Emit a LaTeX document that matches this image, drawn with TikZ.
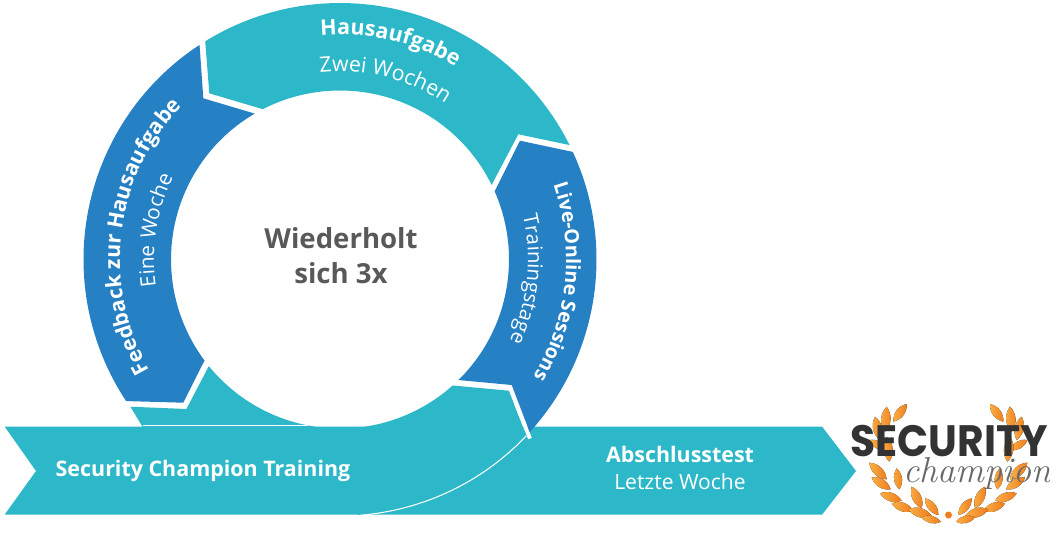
\documentclass[tikz,border=0pt]{standalone}
\usepackage{fontspec}
\usetikzlibrary{decorations.text}
\setmainfont{Open Sans}
\newfontfamily\logofont{Poppins}[FakeStretch=0.93]
\newfontfamily\champfont{Latin Modern Roman}
\definecolor{ringteal}{RGB}{44, 184, 200}
\definecolor{ringblue}{RGB}{37, 128, 196}
\definecolor{centergray}{RGB}{89, 89, 89}
\definecolor{logodark}{RGB}{51, 51, 51}
\definecolor{logogray}{RGB}{105, 105, 105}
\definecolor{leaflight}{RGB}{250, 175, 70}
\definecolor{leafdark}{RGB}{238, 125, 30}

\begin{document}
\begin{tikzpicture}[x=0.02cm, y=0.02cm,
    seg_teal/.style={fill=ringteal},
    seg_blue/.style={fill=ringblue},
    gap_line/.style={white, line width=0.6pt},
    gap_wide/.style={white, line width=2.2pt},
    band_bold/.style={font=\fontsize{12.2}{14}\selectfont\bfseries, text=white, inner sep=0pt},
    band_thin/.style={font=\fontsize{12}{14}\selectfont, text=white, inner sep=0pt},
    center_text/.style={font=\fontsize{15.7}{19.8}\selectfont\bfseries, text=centergray, align=center, inner sep=0pt},
    bent_bold/.style 2 args={decorate, decoration={text along path, text align=center,
        text={|\fontsize{#1}{14}\selectfont\bfseries\color{white}|#2}}},
    bent_thin/.style 2 args={decorate, decoration={text along path, text align=center,
        text={|\fontsize{#1}{14}\selectfont\color{white}|#2}}},
    leaf/.style={left color=leaflight, right color=leafdark, draw=none},
]

\useasboundingbox (0,0) rectangle (1050,532);

% --- Radien ---
\def\rout{256.5}
\def\rin{169}
\def\rbold{225}
\def\rthin{188}

% --- Band ---
\fill[seg_teal] (4.6,105.5) -- (36,61) -- (4.6,17.3) -- (822,17.3) -- (856,61) -- (822,105.5) -- cycle;

\begin{scope}[shift={(340,272.5)}]
% --- Ring unten ---
\fill[seg_teal] (-209.6,-147.2) -- (-153.6,-149.5) -- (219.1:\rin)
    arc[start angle=219.1, end angle=311.8, radius=\rin]
    -- (168.9,-131.2) -- (-43.4:\rout)
    arc[start angle=-43.4, end angle=-85.5, radius=\rout]
    -- (-197,-168) -- cycle;
\draw[gap_line] (-197,-166) -- (-32,-166);
\draw[gap_line] (-43.4:\rout) arc[start angle=-43.4, end angle=-85.5, radius=\rout];
\draw[gap_wide] (176,-144) -- (190,-179);

% --- Ring oben ---
\fill[seg_teal] (121.7:\rout) arc[start angle=121.7, end angle=26.5, radius=\rout]
    -- (178.3,125.2) -- (26.2:\rin)
    arc[start angle=26.2, end angle=117.2, radius=\rin]
    -- (-130.7,166.2) -- cycle;

% --- Ring rechts ---
\fill[seg_blue] (24.8:\rout) arc[start angle=24.8, end angle=-42.3, radius=\rout]
    -- (171.7,-125.5) -- (-45.5:\rin)
    arc[start angle=-45.5, end angle=23.8, radius=\rin]
    -- (180,118.8) -- cycle;

% --- Ring links ---
\fill[seg_blue] (123.2:\rout) arc[start angle=123.2, end angle=213.5, radius=\rout]
    -- (-156.7,-143.2) -- (216.7:\rin)
    arc[start angle=216.7, end angle=120.3, radius=\rin]
    -- (-136.7,161.2) -- cycle;

% --- Gebogene Texte ---
\path[bent_bold={12.2}{Hausaufgabe}] (137:\rbold) arc[start angle=137, end angle=17, radius=\rbold];
\path[bent_thin={12.1}{Zwei Wochen}] (136:\rthin) arc[start angle=136, end angle=16, radius=\rthin];
\path[bent_bold={11.2}{Live-Online Sessions}] (64:226) arc[start angle=64, end angle=-76, radius=226];
\path[bent_thin={11.6}{Trainingstage}] (54:\rthin) arc[start angle=54, end angle=-66, radius=\rthin];
\path[bent_bold={12.1}{Feedback zur Hausaufgabe}] (243:220) arc[start angle=243, end angle=103, radius=220];
\path[bent_thin={11.8}{Eine Woche}] (231:186) arc[start angle=231, end angle=111, radius=186];

\node[center_text] (center) at (1,4) {Wiederholt\\sich 3x};
\end{scope}

% --- Texte im Band ---
\node[band_bold] (training) at (203,61) {Security Champion Training};
\node[band_bold] (test) at (680,78) {Abschlusstest};
\node[band_thin] (week) at (680,50) {Letzte Woche};

% --- Logo: Lorbeer ---
\foreach \s in {1,-1} {
\begin{scope}[shift={(830,142)}, xscale=1/3, yscale=-1/3, shift={(355,0)}, xscale=\s, shift={(-355,0)}]
\foreach \xa/\ya/\xb/\yb in {230/42/190/95, 170/50/165/125, 135/80/150/150, 118/150/170/180,
    170/140/178/215, 118/218/170/268, 200/235/208/298, 125/262/182/298, 150/310/215/332,
    245/290/275/355, 185/340/250/362, 285/325/325/375, 235/358/305/378, 275/382/332/395}
    \fill[leaf] (\xa,\ya) to[bend left=40] (\xb,\yb) to[bend left=40] cycle;
\end{scope}
}
\fill[leafdark] (948.5,17) circle (3.5);

% --- Logo: Schrift ---
\node[font=\logofont\fontsize{25}{28}\selectfont\bfseries, text=logodark, inner sep=0pt] (security) at (949,91) {SECURITY};
\node[font=\champfont\fontsize{20.5}{24}\selectfont\itshape, text=logogray, inner sep=0pt, anchor=base] (champion) at (977,50) {champion};

\end{tikzpicture}
\end{document}
